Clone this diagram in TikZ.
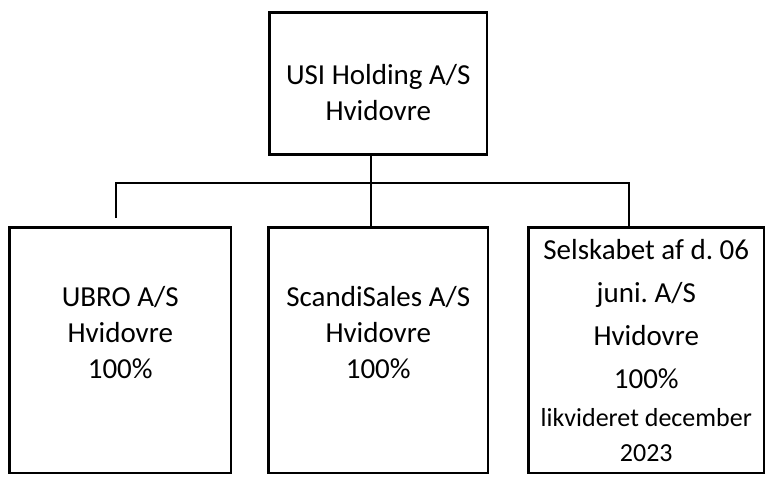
\documentclass[tikz,border=0pt]{standalone}
\usepackage{fontspec}
\setmainfont{Carlito}
\frenchspacing
\usetikzlibrary{positioning}
\tikzset{
    orgbox/.style={draw, line width=2.4pt, align=center, inner sep=0pt,
        font=\fontsize{29}{36}\selectfont},
    link/.style={line width=1.2pt},
}
\newcommand{\smalltxt}[1]{{\fontsize{26}{30}\selectfont #1}}

\begin{document}
\begin{tikzpicture}[x=1pt,y=-1pt]
    \useasboundingbox (0,0) rectangle (767,480);

    % Parent company
    \node[orgbox, minimum width=217.5pt, minimum height=142pt, text height=74pt] (holding) at (378.25,83.5)
        {USI Holding A/S\\Hvidovre};

    % Subsidiaries
    \node[orgbox, minimum width=221.5pt, minimum height=245.5pt, text depth=36pt] (ubro) at (120.25,350.25)
        {UBRO A/S\\Hvidovre\\100\%};
    \node[orgbox, minimum width=219.5pt, minimum height=245.5pt, text depth=36pt] (scandi) at (378.25,350.25)
        {ScandiSales A/S\\Hvidovre\\100\%};
    \node[orgbox, minimum width=235.5pt, minimum height=245.5pt] (selskab) at (646.25,350.25)
        {Selskabet af d. 06\\[7pt]juni. A/S\\[7pt]Hvidovre\\[7pt]100\%\\[2pt]
         \smalltxt{likvideret december}\\[-1pt]\smalltxt{2023}};

    % Connectors
    \coordinate (bus) at (371,183);
    \coordinate (ldrop) at (116,218);
    \coordinate (rdrop) at (629,183);
    \draw[link] (holding.south -| bus) -- (scandi.north -| bus);
    \draw[link] (ldrop) |- (rdrop) -- (rdrop |- selskab.north);
\end{tikzpicture}
\end{document}
